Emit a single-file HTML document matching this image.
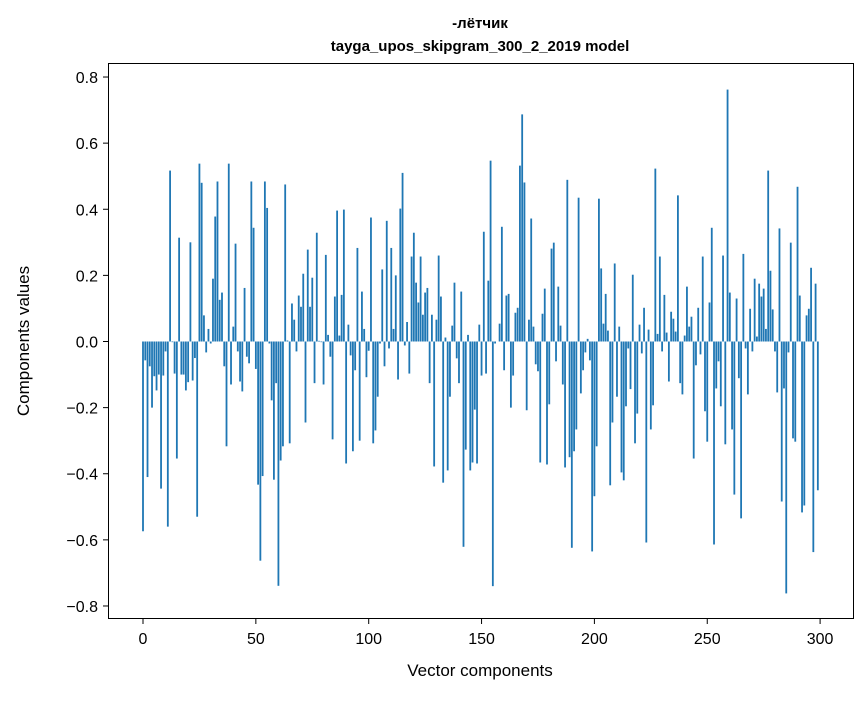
<!DOCTYPE html>
<html><head><meta charset="utf-8"><style>
body{margin:0;background:#fff;}
svg text{font-family:"Liberation Sans","DejaVu Sans",sans-serif;fill:#000;}
</style></head><body>
<svg id="chart" width="867" height="696" xmlns="http://www.w3.org/2000/svg">
<text x="480" y="28" text-anchor="middle" font-size="15" font-weight="bold">-лётчик</text>
<text x="480" y="51" text-anchor="middle" font-size="15" font-weight="bold">tayga_upos_skipgram_300_2_2019 model</text>
<g id="bars"></g>
<rect x="108.5" y="63.5" width="745" height="555" fill="none" stroke="#000" stroke-width="1"/>
<g id="xticks"></g>
<g id="yticks"></g>
<text x="480" y="676" text-anchor="middle" font-size="17">Vector components</text>
<text transform="translate(29,341) rotate(-90)" text-anchor="middle" font-size="17">Components values</text>
</svg>
<script>
const values = [
-0.574,-0.057,-0.41,-0.075,-0.20,-0.105,-0.148,-0.10,-0.445,-0.103,
-0.03,-0.56,0.517,-0.002,-0.097,-0.354,0.314,-0.10,-0.10,-0.148,
-0.123,0.30,-0.118,-0.05,-0.53,0.538,0.48,0.079,-0.033,0.038,
-0.006,0.19,0.378,0.484,0.126,0.148,-0.075,-0.317,0.538,-0.13,
0.045,0.296,-0.03,-0.121,-0.151,0.162,-0.046,-0.066,0.484,0.344,
-0.083,-0.433,-0.663,-0.407,0.484,0.404,-0.006,-0.178,-0.418,-0.126,
-0.739,-0.36,-0.317,0.475,0.003,-0.308,0.115,0.066,-0.03,0.139,
0.105,0.205,-0.245,0.278,0.105,0.193,-0.126,0.329,0.002,-0.002,
-0.13,0.262,0.02,-0.046,-0.296,0.136,0.396,0.018,0.141,0.399,
-0.369,0.051,-0.042,-0.332,-0.087,0.283,-0.30,0.151,0.038,-0.108,
-0.028,0.375,-0.308,-0.269,-0.167,-0.006,0.218,-0.075,0.365,-0.021,
0.283,0.038,0.20,-0.115,0.402,0.51,-0.012,0.059,-0.097,0.257,
0.329,0.178,0.118,0.257,0.081,0.148,0.162,-0.126,0.081,-0.378,
0.066,0.26,0.136,-0.427,0.012,-0.39,-0.167,0.048,0.178,-0.051,
-0.126,0.151,-0.621,-0.327,0.02,-0.39,-0.366,-0.206,-0.369,0.051,
-0.103,0.332,-0.097,0.184,0.547,-0.74,-0.006,0.0,0.054,0.347,
-0.087,0.139,0.144,-0.20,-0.103,0.087,0.102,0.532,0.687,0.481,
-0.208,0.066,0.372,0.045,-0.069,-0.09,-0.366,0.084,0.16,-0.372,
-0.19,0.281,0.299,-0.06,0.166,0.048,-0.13,-0.381,0.489,-0.35,
-0.624,-0.332,-0.266,0.435,-0.157,-0.087,-0.033,0.008,-0.057,-0.635,
-0.468,-0.317,0.432,0.221,0.054,0.144,0.033,-0.435,-0.245,0.236,
-0.167,0.045,-0.396,-0.42,-0.196,-0.021,-0.144,0.202,-0.308,-0.218,
0.051,-0.036,0.102,-0.608,0.036,-0.266,-0.193,0.523,0.023,0.257,
-0.03,0.141,0.027,-0.121,0.09,0.069,0.03,0.442,-0.126,-0.16,
0.018,0.166,0.045,0.075,-0.354,-0.072,0.102,-0.039,0.257,-0.211,
-0.303,0.118,0.344,-0.614,-0.142,-0.06,-0.196,0.26,-0.311,0.762,
0.148,-0.266,-0.463,0.13,-0.111,-0.535,0.265,-0.021,-0.16,0.099,
-0.03,0.19,0.015,0.175,0.136,0.16,0.038,0.517,0.214,0.097,
-0.03,-0.154,0.342,-0.484,-0.142,-0.762,-0.033,0.299,-0.293,-0.303,
0.468,0.139,-0.517,-0.496,0.079,0.099,0.223,-0.637,0.175,-0.45
];
const xTicks = [0,50,100,150,200,250,300];
const yTicks = [-0.8,-0.6,-0.4,-0.2,0.0,0.2,0.4,0.6,0.8];
const yTickLabels = ["\u22120.8","\u22120.6","\u22120.4","\u22120.2","0.0","0.2","0.4","0.6","0.8"];

const NS="http://www.w3.org/2000/svg";
function xs(v){return 143+2.257*v;}
function ys(v){return 341.5-330.6*v;}
const bars=document.getElementById('bars');
values.forEach((v,i)=>{
  const r=document.createElementNS(NS,'rect');
  const w=2.257*0.8;
  r.setAttribute('x',xs(i)-w/2);
  r.setAttribute('y',Math.min(ys(v),ys(0)));
  r.setAttribute('width',w);
  r.setAttribute('height',Math.abs(ys(v)-ys(0)));
  r.setAttribute('fill','#1f77b4');
  
  
  bars.appendChild(r);
});
const xg=document.getElementById('xticks');
xTicks.forEach(t=>{
  const l=document.createElementNS(NS,'line');
  l.setAttribute('x1',xs(t));l.setAttribute('x2',xs(t));
  l.setAttribute('y1',619);l.setAttribute('y2',624);
  l.setAttribute('stroke','#000');
  
  
  xg.appendChild(l);
  const tx=document.createElementNS(NS,'text');
  tx.setAttribute('x',xs(t));tx.setAttribute('y',644);
  tx.setAttribute('text-anchor','middle');tx.setAttribute('font-size','16');
  tx.textContent=t;
  
  
  xg.appendChild(tx);
});
const yg=document.getElementById('yticks');
yTicks.forEach((t,k)=>{
  const l=document.createElementNS(NS,'line');
  l.setAttribute('x1',103);l.setAttribute('x2',108);
  l.setAttribute('y1',ys(t));l.setAttribute('y2',ys(t));
  l.setAttribute('stroke','#000');
  
  
  yg.appendChild(l);
  const tx=document.createElementNS(NS,'text');
  tx.setAttribute('x',98);tx.setAttribute('y',ys(t)+6);
  tx.setAttribute('text-anchor','end');tx.setAttribute('font-size','16');
  tx.textContent=yTickLabels[k];
  
  
  yg.appendChild(tx);
});
</script>
</body></html>
